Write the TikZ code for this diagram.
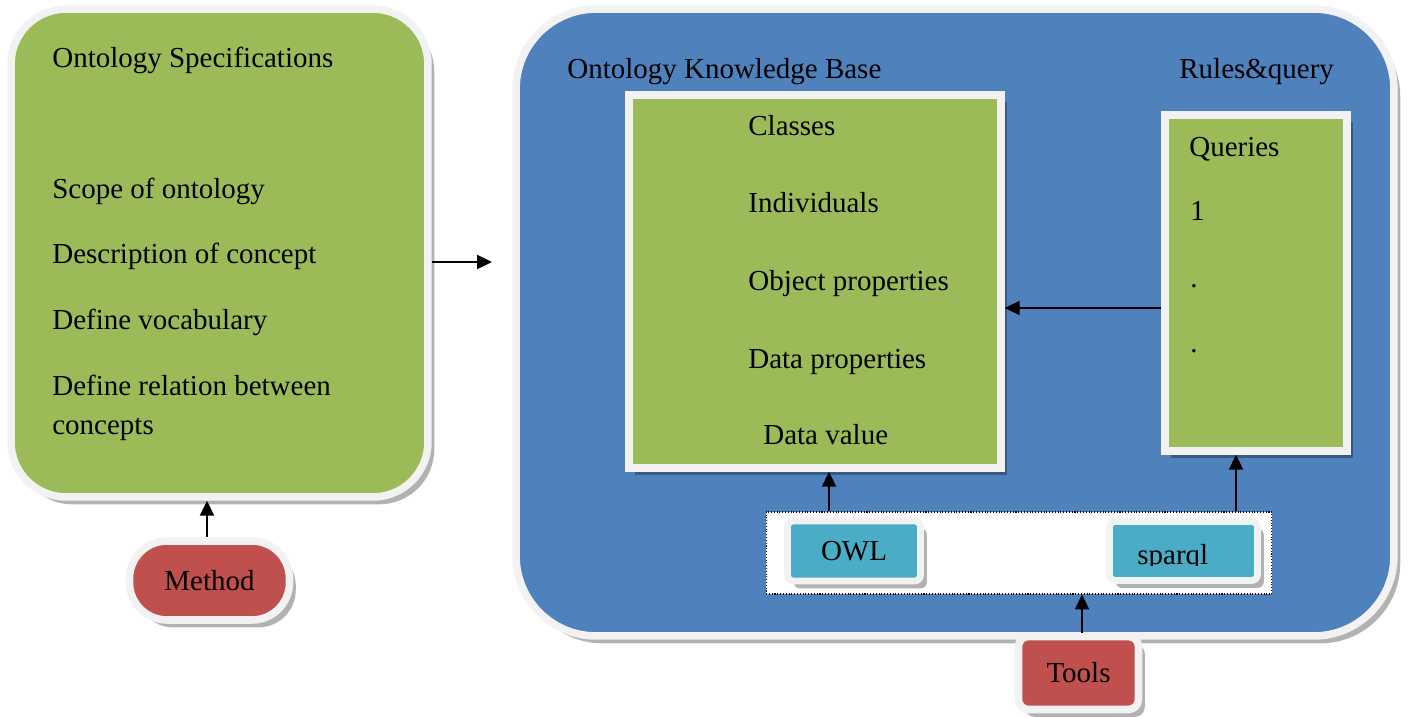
\documentclass[tikz,border=0pt]{standalone}
\usepackage{fontspec}
\setmainfont{Liberation Serif}
\usetikzlibrary{arrows.meta,shadows}
\definecolor{leaf}{HTML}{9BBB59}
\definecolor{sea}{HTML}{4F81BD}
\definecolor{brick}{HTML}{C0504D}
\definecolor{aqua}{HTML}{4BACC6}
\definecolor{rim}{HTML}{F2F2F2}
\tikzset{
  panel/.style={draw=rim, line width=4.3pt,
    drop shadow={shadow xshift=3.6pt, shadow yshift=-4.2pt, fill=black, opacity=0.3}},
  item/.style={anchor=base west, inner sep=0pt},
}
\begin{document}
\begin{tikzpicture}[x=0.02cm, y=-0.02cm, font=\fontsize{16.5}{20}\selectfont]
      \useasboundingbox (0,0) rectangle (1410,717);
      % specification side
      \node[panel, fill=leaf, rounded corners=1.1cm, minimum width=8.34cm, minimum height=9.76cm] (spec) at (219.5,253) {};
      \node[item] (spectitle) at (52,67) {Ontology Specifications};
      \node[item] (scope) at (52,198) {Scope of ontology};
      \node[item] (descr) at (52,263) {Description of concept};
      \node[item] (vocab) at (52,329) {Define vocabulary};
      \node[item] (relat) at (52,395) {Define relation between};
      \node[item] (concepts) at (52,434) {concepts};
      \node[panel, fill=brick, rounded corners=0.75cm, minimum width=3.2cm, minimum height=1.58cm] (method) at (209.5,580.5) {Method};
      % knowledge base side
      \node[panel, fill=sea, rounded corners=1.6cm, minimum width=17.56cm, minimum height=12.54cm] (kb) at (955,322.5) {};
      \coordinate (kbin) at (492,262);
      \node[item] (kbtitle) at (567,78) {Ontology Knowledge Base};
      \node[item] (rqtitle) at (1179,78) {Rules\&query};
      \node[panel, fill=leaf, minimum width=7.44cm, minimum height=7.46cm] (classes) at (815,281.5) {};
      \node[item] (cls) at (748,135) {Classes};
      \node[item] (ind) at (748,212) {Individuals};
      \node[item] (objp) at (748,290) {Object properties};
      \node[item] (datp) at (748,368) {Data properties};
      \node[item] (datv) at (763,444) {Data value};
      \node[panel, fill=leaf, minimum width=3.64cm, minimum height=6.72cm] (queries) at (1256,283) {};
      \node[item] (qtitle) at (1189,156) {Queries};
      \node[item] (qone) at (1190,220) {1};
      \node[item] (qdotA) at (1190,287) {.};
      \node[item] (qdotB) at (1190,352) {.};
      % tools
      \node[draw, densely dotted, fill=white, line width=0.6pt, minimum width=10.12cm, minimum height=1.64cm] (tray) at (1019,553) {};
      \node[panel, fill=aqua, line width=3.8pt, rounded corners=0.12cm, minimum width=2.66cm, minimum height=1.2cm] (owl) at (854,551) {OWL};
      \node[panel, fill=aqua, line width=3.8pt, rounded corners=0.12cm, minimum width=2.96cm, minimum height=1.18cm] (sparql) at (1183.5,551) {};
      \begin{scope}
        \clip (1100,520) rectangle (1260,565);
        \node[item] (sparqltext) at (1137,564) {sparql};
      \end{scope}
      \node[panel, fill=brick, rounded corners=0.2cm, minimum width=2.4cm, minimum height=1.46cm] (tools) at (1078.5,673) {Tools};
      \begin{scope}[-{Triangle[length=8.5pt,width=8pt]}, line width=1.1pt]
        \draw (spec.east |- kbin) to (kbin);
        \draw (method.north -| 207,0) to (spec.south -| 207,0);
        \draw (queries.west |- 0,308) to (classes.east |- 0,308);
        \draw (tray.north -| 829,0) to (classes.south -| 829,0);
        \draw (tray.north -| 1236,0) to (queries.south -| 1236,0);
        \draw (tools.north -| 1082,0) to (tray.south -| 1082,0);
      \end{scope}
    \end{tikzpicture}
\end{document}
